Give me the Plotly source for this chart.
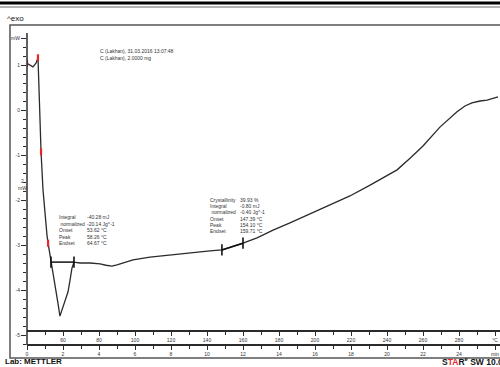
import numpy as np
import plotly.graph_objects as go

# DSC heating scan, 10 K/min from 40 °C
time_min = [0.00, 0.17, 0.33, 0.50, 0.61, 0.67, 0.72, 0.78, 0.89, 1.00, 1.11, 1.17,
            1.28, 1.33, 1.44, 1.56, 1.72, 1.83, 1.94, 2.11, 2.28, 2.39, 2.50, 2.61,
            2.94, 3.50, 4.06, 4.39, 4.72, 5.00, 5.28, 5.89, 6.83, 7.94, 9.06, 10.17, 10.83,
            11.44, 12.00, 12.78, 13.67, 14.61, 15.72, 16.83, 17.94, 19.06, 20.56, 21.28,
            22.00, 22.94, 23.50, 23.89, 24.33, 24.72, 25.17, 25.56, 26.17]
heat_flow_mw = [1.04, 1.00, 0.96, 1.04, 1.16, 0.44, -0.44, -0.93, -1.78, -2.33, -2.78, -2.96,
                -3.22, -3.38, -3.60, -3.84, -4.29, -4.58, -4.44, -4.27, -4.04, -3.78, -3.51, -3.38,
                -3.40, -3.40, -3.42, -3.45, -3.47, -3.44, -3.40, -3.33, -3.27, -3.22, -3.18, -3.13,
                -3.11, -3.04, -2.96, -2.84, -2.67, -2.51, -2.31, -2.11, -1.91, -1.67, -1.33, -1.07,
                -0.80, -0.38, -0.18, -0.04, 0.09, 0.16, 0.20, 0.22, 0.29]

# evaluation marks (red) and integration limits
red_mark_min = [0.00, 0.61, 0.78, 1.17]
peak1_limits_min = [1.33, 2.61]
peak2_limits_min = [10.83, 12.00]

# axis ticks
min_ticks = [0, 2, 4, 6, 8, 10, 12, 14, 16, 18, 20, 22, 24, 26]
min_labels = ["0", "2", "4", "6", "8", "10", "12", "14", "16", "18", "20", "22", "24", "min"]
degc_ticks = [2, 4, 6, 8, 10, 12, 14, 16, 18, 20, 22, 24, 26]
degc_labels = ["60", "80", "100", "120", "140", "160", "180", "200", "220", "240", "260", "280", "°C"]
y_ticks = [1.6, 1, 0, -1, -2, -3, -4, -5]
y_labels = ["mW", "1", "0", "-1", "-2", "-3", "-4", "-5"]

header_lines = ["C (Lakhan), 31.03.2016 13:07:48", "C (Lakhan), 2.0000 mg"]
peak1_names = ["Integral", " normalized", "Onset", "Peak", "Endset"]
peak1_values = ["-40.28 mJ", "-20.14 Jg^-1", "53.62 °C", "58.26 °C", "64.67 °C"]
peak2_names = ["Crystallinity", "Integral", " normalized", "Onset", "Peak", "Endset"]
peak2_values = ["39.93 %", "-0.80 mJ", "-0.40 Jg^-1", "147.39 °C", "154.10 °C", "159.71 °C"]

W, H = 500, 367


def px(x):
    return x / W


def py(y):
    return 1 - y / H


FONT = "Liberation Sans, Arial, sans-serif"
SMALL = dict(family=FONT, size=5, color="#333")
INK = "#2b2b2b"

t = np.array(time_min)
hf = np.array(heat_flow_mw)

fig = go.Figure()

fig.add_trace(go.Scatter(x=t, y=hf, mode="lines",
                         line=dict(color=INK, width=1.3), hoverinfo="skip"))

# integration baselines with limit bars
for lims in (peak1_limits_min, peak2_limits_min):
    lv = np.interp(lims, t, hf)
    fig.add_trace(go.Scatter(x=lims, y=lv, mode="lines+markers",
                             line=dict(color="#111", width=1.5),
                             marker=dict(symbol="line-ns", size=8,
                                         line=dict(color="#111", width=1.6)),
                             hoverinfo="skip"))

# red evaluation marks on the curve
fig.add_trace(go.Scatter(x=red_mark_min, y=np.interp(red_mark_min, t, hf), mode="markers",
                         marker=dict(symbol="line-ns", size=5,
                                     line=dict(color="#e8262a", width=2.2)),
                         hoverinfo="skip"))

x_end = (W - 27) / 18.0
y_lo = (110 - 345) / 45.0
y_hi = (110 - 25) / 45.0

axis_common = dict(range=[0, x_end], showgrid=False, zeroline=False, showline=True,
                   linecolor=INK, linewidth=1.5, ticks="outside", tickcolor=INK,
                   ticklen=4, tickwidth=1, tickfont=SMALL, tickmode="array",
                   domain=[px(27), 1], anchor="free")

fig.update_layout(
    width=W, height=H,
    margin=dict(l=0, r=0, t=0, b=0, pad=0),
    paper_bgcolor="white", plot_bgcolor="white",
    showlegend=False,
    xaxis=dict(**axis_common, position=py(345), tickvals=min_ticks, ticktext=min_labels,
               minor=dict(tickmode="array", tickvals=list(range(1, 27, 2)),
                          ticks="outside", ticklen=3, tickcolor=INK)),
    xaxis2=dict(**axis_common, position=py(331), overlaying="x",
                tickvals=degc_ticks, ticktext=degc_labels,
                minor=dict(tickmode="array", tickvals=list(range(1, 27, 2)),
                           ticks="outside", ticklen=3, tickcolor=INK)),
    yaxis=dict(range=[y_lo, y_hi], domain=[py(345), py(25)], showgrid=False,
               zeroline=False, showline=False, ticks="outside", tickcolor=INK,
               ticklen=5, tickwidth=1, tickfont=SMALL, tickmode="array",
               tickvals=y_ticks, ticktext=y_labels,
               minor=dict(tickmode="array",
                          tickvals=[round(v, 1) for v in np.arange(-5.2, 1.61, 0.2)],
                          ticks="outside", ticklen=3, tickcolor=INK)),
)

# hidden trace so the °C axis is drawn
fig.add_trace(go.Scatter(x=[0], y=[None], xaxis="x2", mode="lines", hoverinfo="skip"))

shapes = [
    # header rules
    dict(type="line", xref="paper", yref="paper", x0=0, x1=1, y0=py(3), y1=py(3),
         line=dict(color="#000", width=3)),
    dict(type="line", xref="paper", yref="paper", x0=0, x1=1, y0=py(7), y1=py(7),
         line=dict(color="#9a9a9a", width=1.5)),
    # outer frame
    dict(type="rect", xref="paper", yref="paper", x0=px(10), x1=px(520),
         y0=py(358), y1=py(25), line=dict(color="#555", width=1.5)),
    # y axis line
    dict(type="line", xref="paper", yref="paper", x0=px(27), x1=px(27),
         y0=py(33), y1=py(345), line=dict(color=INK, width=1.5)),
]
fig.update_layout(shapes=shapes)

ann = []


def text(x, y, s, font, anchor="left"):
    ann.append(dict(x=px(x), y=py(y), xref="paper", yref="paper", text=s, showarrow=False,
                    xanchor=anchor, yanchor="middle", font=font, align="left"))


text(5, 18, "^exo", dict(family=FONT, size=8, color="#111"))
text(3, 361, "<b>Lab: METTLER</b>", dict(family=FONT, size=8, color="#111"))
text(440, 361, "<b>S<span style='color:#e8262a'>TA</span>R<sup>e</sup> SW 10.00</b>",
     dict(family=FONT, size=8.5, color="#111"))
text(19, 181, "2", SMALL)
text(16, 188, "mW", SMALL)

for i, s in enumerate(header_lines):
    text(98, 51 + 6.5 * i, s, SMALL)

for i, (n, v) in enumerate(zip(peak1_names, peak1_values)):
    yy = 217 + 6.5 * i
    text(57, yy, n.replace(" ", "&nbsp;"), SMALL)
    text(85, yy, v, SMALL)

for i, (n, v) in enumerate(zip(peak2_names, peak2_values)):
    yy = 200 + 6.2 * i
    text(208, yy, n.replace(" ", "&nbsp;"), SMALL)
    text(238, yy, v, SMALL)

fig.update_layout(annotations=ann)

fig.write_html("out.html")
